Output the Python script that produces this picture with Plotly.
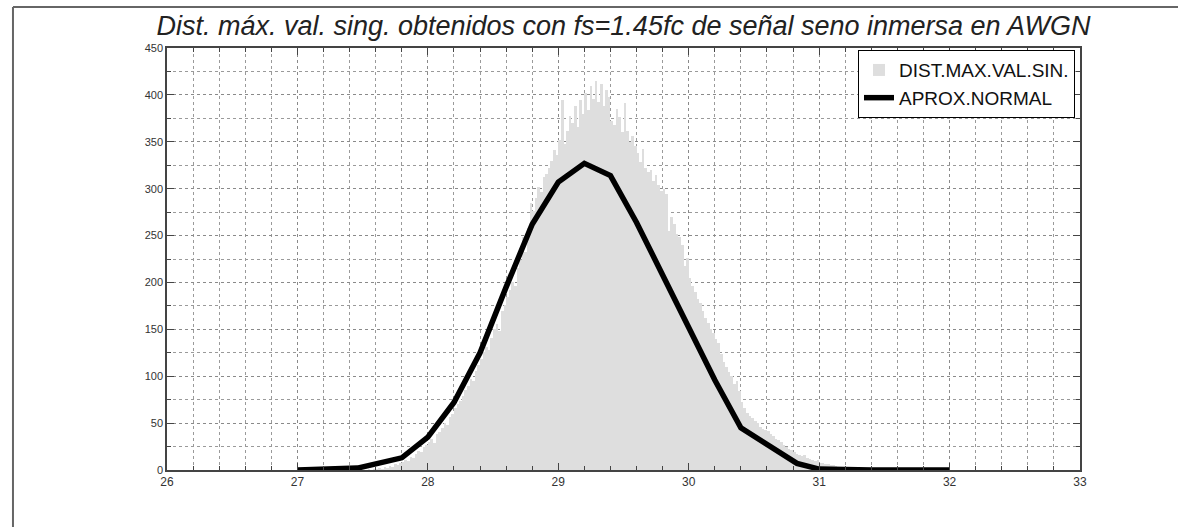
import numpy as np
import plotly.graph_objects as go

# Histogram of the maximum singular value (bin width 0.02 starting at 27.5)
HIST_START = 27.5
BIN_WIDTH = 0.02
hist_counts = [
    0, 0, 1, 0, 1,
    1, 2, 1, 3, 2,
    4, 3, 6, 5, 8,
    9, 11, 10, 14, 13,
    17, 20, 19, 24, 27,
    30, 33, 29, 38, 41,
    45, 50, 48, 57, 60,
    66, 70, 74, 79, 85,
    90, 97, 95, 106, 112,
    118, 126, 131, 128, 141,
    150, 156, 148, 170, 176,
    184, 192, 200, 196, 215,
    224, 248, 232, 258, 285,
    276, 290, 302, 296, 312,
    316, 322, 330, 341, 336,
    352, 395, 348, 362, 378,
    370, 388, 366, 395, 380,
    402, 384, 410, 396, 415,
    392, 412, 388, 405, 398,
    372, 368, 385, 376, 360,
    391, 362, 350, 356, 345,
    338, 328, 342, 322, 318,
    320, 308, 315, 304, 298,
    300, 294, 255, 270, 262,
    252, 248, 240, 218, 226,
    205, 196, 190, 182, 178,
    170, 162, 157, 150, 146,
    140, 135, 124, 115, 110,
    104, 100, 92, 95, 84,
    72, 66, 61, 58, 55,
    52, 50, 46, 44, 43,
    42, 38, 36, 33, 32,
    30, 27, 24, 22, 21,
    19, 17, 16, 15, 16,
    13, 12, 11, 10, 11,
    8, 7, 6, 6, 5,
    5, 4, 3, 3, 2,
    2, 2, 1, 2, 1,
    1, 0, 1, 0, 0,
]

# Normal approximation evaluated at a few abscissae
normal_x = [27.0, 27.46, 27.8, 28.0, 28.2, 28.4, 28.6, 28.8, 29.0, 29.2, 29.4,
            29.6, 29.8, 30.0, 30.2, 30.4, 30.83, 31.0, 31.4, 32.0]
normal_y = [0, 2, 13, 35, 72, 125, 195, 262, 307, 327, 314,
            264, 208, 152, 96, 45, 7, 1, 0, 0]

TITLE = "Dist. máx. val. sing. obtenidos con fs=1.45fc de señal seno inmersa en AWGN"

x_ticks = [26, 27, 28, 29, 30, 31, 32, 33]
y_ticks = [0, 50, 100, 150, 200, 250, 300, 350, 400, 450]

bin_centers = HIST_START + BIN_WIDTH * (np.arange(len(hist_counts)) + 0.5)

fig = go.Figure()
fig.add_trace(go.Bar(
    x=bin_centers, y=hist_counts, width=BIN_WIDTH,
    marker=dict(color="#dedede", line=dict(width=0)),
    name="DIST.MAX.VAL.SIN.",
))
fig.add_trace(go.Scatter(
    x=normal_x, y=normal_y, mode="lines",
    line=dict(color="black", width=5.5),
    name="APROX.NORMAL",
))

axis_common = dict(
    showline=True, linecolor="#444", linewidth=1.5, mirror="allticks",
    ticks="inside", ticklen=7, tickcolor="#444",
    showgrid=True, gridcolor="#8a8a8a", griddash="dot", gridwidth=1,
    zeroline=False,
    tickfont=dict(family="Liberation Sans, Arial", color="#333"),
)

fig.update_xaxes(
    range=[26, 33], tickvals=x_ticks, ticktext=[str(v) for v in x_ticks],
    minor=dict(dtick=0.2, ticks="inside", ticklen=4, tickcolor="#444",
               showgrid=True, gridcolor="#9a9a9a", griddash="dot"),
    **axis_common,
)
fig.update_yaxes(
    range=[0, 450], tickvals=y_ticks, ticktext=[str(v) for v in y_ticks],
    minor=dict(dtick=25, ticks="inside", ticklen=4, tickcolor="#444",
               showgrid=True, gridcolor="#9a9a9a", griddash="dot"),
    **axis_common,
)
fig.update_xaxes(tickfont_size=12)
fig.update_yaxes(tickfont_size=11)

# Figure frame line (left and top edges)
frame = dict(type="line", xref="paper", yref="paper",
             line=dict(color="#666", width=2))
fig.add_shape(x0=-0.1687, x1=-0.1687, y0=-0.2, y1=1.097, **frame)
fig.add_shape(x0=-0.1687, x1=1.2, y0=1.097, y1=1.097, **frame)

fig.update_layout(
    width=1178, height=527,
    margin=dict(l=167, r=98, t=48, b=57),
    paper_bgcolor="white", plot_bgcolor="white",
    bargap=0,
    font=dict(family="Liberation Sans, Arial", color="#222"),
    title=dict(text="<i>" + TITLE + "</i>", xref="paper", x=0.5, xanchor="center",
               yref="container", y=1 - 26 / 527, yanchor="middle",
               font=dict(size=27, color="#222")),
    legend=dict(x=0.9945, xanchor="right", y=0.995, yanchor="top",
                bordercolor="black", borderwidth=1, bgcolor="white",
                font=dict(size=19, color="#111"), tracegroupgap=0,
                itemwidth=30),
    showlegend=True,
)

fig.write_html("out.html")
